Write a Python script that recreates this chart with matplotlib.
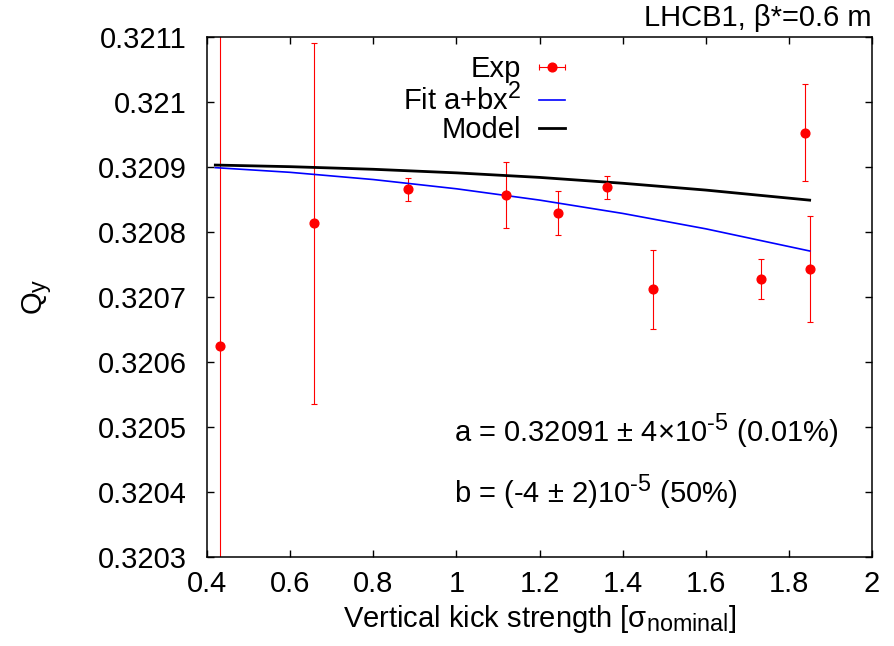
import matplotlib.pyplot as plt
import matplotlib._mathtext as mathtext_internal
from matplotlib.lines import Line2D
from matplotlib.legend_handler import HandlerLine2D
from matplotlib.ticker import FixedLocator, FuncFormatter

plt.rcParams['font.family'] = ['Liberation Sans', 'DejaVu Sans']
plt.rcParams['mathtext.fontset'] = 'custom'
plt.rcParams['mathtext.rm'] = 'Liberation Sans'
plt.rcParams['mathtext.it'] = 'Liberation Sans'
plt.rcParams['mathtext.default'] = 'regular'
# gnuplot-like bigger sub/superscripts
mathtext_internal.SHRINK_FACTOR = 0.8

# measured tunes
kick = [0.431, 0.6575, 0.884, 1.1196, 1.2455, 1.3634, 1.474, 1.7326, 1.839, 1.8497]
qy = [0.320625, 0.3208134, 0.3208656, 0.3208569, 0.3208292, 0.3208687,
      0.3207118, 0.3207272, 0.3209528, 0.3207436]
qy_err = [0.0009, 0.000278, 0.0000177, 0.000051, 0.0000337, 0.0000179,
          0.0000608, 0.0000305, 0.0000743, 0.0000815]

# fit curve a+bx^2
fit_x = [0.42, 0.6, 0.8, 1.0, 1.2, 1.4, 1.6, 1.85]
fit_y = [0.3208990, 0.3208918, 0.3208807, 0.3208665, 0.3208491, 0.3208286,
         0.3208049, 0.3207708]

# model curve
model_x = [0.42, 0.6, 0.8, 1.0, 1.2, 1.4, 1.6, 1.85]
model_y = [0.320903, 0.3209005, 0.3208965, 0.320891, 0.320884, 0.320875,
           0.3208645, 0.320849]

xticks = [0.4, 0.6, 0.8, 1.0, 1.2, 1.4, 1.6, 1.8, 2.0]
yticks = [0.3203, 0.3204, 0.3205, 0.3206, 0.3207, 0.3208, 0.3209, 0.3210, 0.3211]

FS = 21

fig = plt.figure(figsize=(8.95, 6.46), dpi=100)
ax = fig.add_axes([207/895, 1-557/646, 665/895, 520/646])

ax.errorbar(kick, qy, yerr=qy_err, fmt='o', color='#ff0000', ms=6.3,
            elinewidth=0.8, capsize=2.5, capthick=0.8)
fit_line, = ax.plot(fit_x, fit_y, color='#0000ff', lw=1.2)
model_line, = ax.plot(model_x, model_y, color='black', lw=2.0)

ax.set_xlim(0.4, 2.0)
ax.set_ylim(0.3203, 0.3211)
ax.xaxis.set_major_locator(FixedLocator(xticks))
ax.yaxis.set_major_locator(FixedLocator(yticks))
ax.xaxis.set_major_formatter(FuncFormatter(lambda v, p: '%g' % round(v, 4)))
ax.yaxis.set_major_formatter(FuncFormatter(lambda v, p: ('%.4f' % v).rstrip('0')))
ax.tick_params(direction='in', top=True, right=True, length=5, width=1,
               labelsize=FS)
ax.tick_params(axis='x', pad=9)
ax.tick_params(axis='y', pad=14.5)
for s in ax.spines.values():
    s.set_linewidth(1.1)

ax.set_xlabel(r'Vertical kick strength [σ$_{nominal}$]', fontsize=FS)
ax.xaxis.set_label_coords(0.5, -0.088)
ax.set_ylabel(r'Q$_{y}$', fontsize=FS)
ax.yaxis.set_label_coords(-0.23, 0.5)

# legend, gnuplot style (text right, key left)
exp_key = Line2D([], [], color='#ff0000', marker='o', ms=6.3, lw=0.8)
cap_key = Line2D([], [], color='#ff0000', marker='|', ms=5, mew=0.8, lw=0)
ax.legend([(exp_key, cap_key), fit_line, model_line],
          ['Exp', r'Fit a+bx$^{2}$', 'Model'],
          handler_map={cap_key: HandlerLine2D(numpoints=2, marker_pad=0)},
          loc='upper right', bbox_to_anchor=(0.5383, 0.965), frameon=False,
          markerfirst=False, fontsize=FS, handlelength=0.9,
          handletextpad=0.6, labelspacing=0.0, borderpad=0, borderaxespad=0)

ax.text(0.372, 0.2217, r'a = 0.32091 ± 4×10$^{\text{-5}}$ (0.01%)',
        transform=ax.transAxes, fontsize=FS, va='baseline', ha='left')
ax.text(0.372, 0.1038, r'b = (-4 ± 2)10$^{\text{-5}}$ (50%)',
        transform=ax.transAxes, fontsize=FS, va='baseline', ha='left')

ax.text(1.0, 1.01, 'LHCB1, β*=0.6 m', transform=ax.transAxes, fontsize=FS,
        ha='right', va='bottom')

fig.savefig('out.png', dpi=100)
